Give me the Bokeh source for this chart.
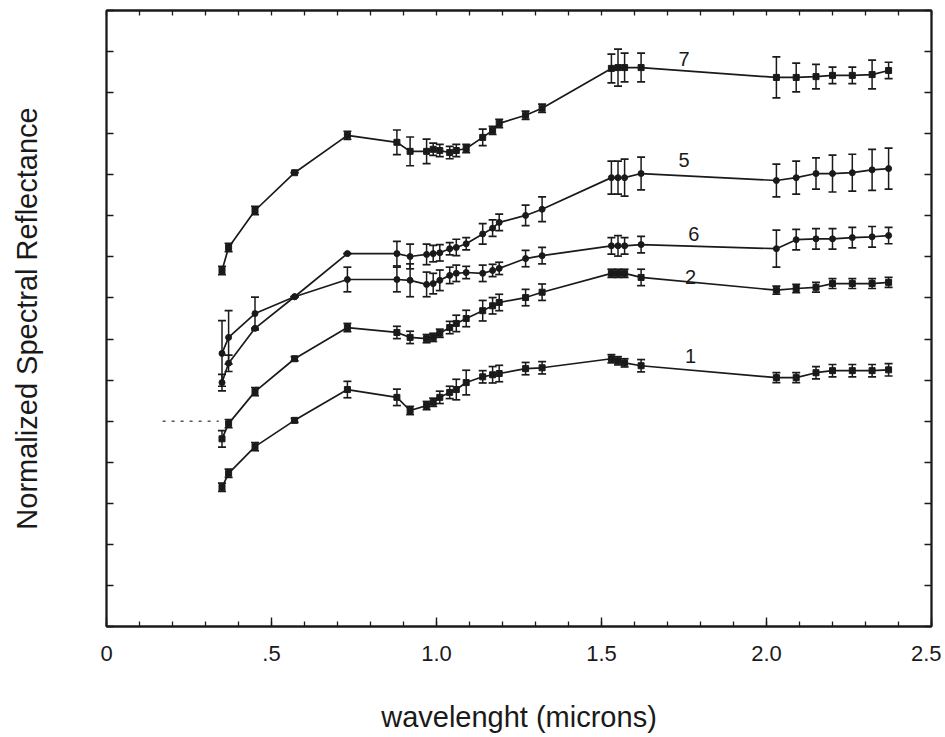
from bokeh.plotting import figure
from bokeh.models import ColumnDataSource, Whisker, TeeHead, LinearAxis, FixedTicker, Range1d
from bokeh.core.properties import value
from bokeh.embed import file_html
from bokeh.resources import INLINE

# wavelength (microns)
wavelength = [0.35, 0.37, 0.45, 0.57, 0.73, 0.88, 0.92, 0.97, 0.99, 1.01, 1.04, 1.06, 1.09, 1.14,
              1.17, 1.19, 1.27, 1.32, 1.53, 1.55, 1.57, 1.62, 2.03, 2.09, 2.15, 2.20, 2.26, 2.32, 2.37]

# normalized spectral reflectance (arbitrary units, axis unlabeled)
refl_7 = [8.67, 9.23, 10.13, 11.05, 11.96, 11.79, 11.57, 11.57, 11.62, 11.59, 11.54, 11.59, 11.64, 11.91,
          12.08, 12.25, 12.45, 12.62, 13.59, 13.61, 13.61, 13.61, 13.37, 13.37, 13.39, 13.42, 13.42, 13.44, 13.54]
refl_5 = [5.94, 6.41, 7.26, 8.03, 9.08, 9.08, 9.01, 9.06, 9.08, 9.10, 9.20, 9.23, 9.32, 9.56,
          9.70, 9.84, 10.01, 10.16, 10.93, 10.93, 10.93, 11.03, 10.86, 10.93, 11.03, 11.03, 11.05, 11.12, 11.15]
refl_6 = [6.65, 7.04, 7.62, 8.03, 8.45, 8.45, 8.43, 8.33, 8.35, 8.43, 8.55, 8.60, 8.62, 8.60,
          8.67, 8.72, 8.96, 9.03, 9.27, 9.27, 9.27, 9.30, 9.20, 9.42, 9.44, 9.44, 9.47, 9.49, 9.52]
refl_2 = [4.57, 4.94, 5.72, 6.52, 7.28, 7.16, 7.04, 7.01, 7.04, 7.14, 7.28, 7.38, 7.50, 7.69,
          7.81, 7.89, 8.01, 8.14, 8.60, 8.60, 8.60, 8.50, 8.19, 8.23, 8.26, 8.35, 8.35, 8.35, 8.38]
refl_1 = [3.39, 3.73, 4.38, 5.02, 5.77, 5.58, 5.26, 5.38, 5.46, 5.58, 5.70, 5.77, 5.94, 6.08,
          6.13, 6.16, 6.28, 6.30, 6.52, 6.47, 6.42, 6.35, 6.06, 6.06, 6.18, 6.23, 6.23, 6.23, 6.25]

# error bar half-lengths
err_7 = [0.1, 0.1, 0.1, 0.0, 0.1, 0.3, 0.35, 0.3, 0.15, 0.15, 0.15, 0.15, 0.1, 0.2,
         0.1, 0.1, 0.1, 0.1, 0.35, 0.45, 0.35, 0.35, 0.5, 0.35, 0.3, 0.2, 0.2, 0.35, 0.2]
err_5 = [0.2, 0.2, 0.0, 0.0, 0.0, 0.3, 0.3, 0.25, 0.2, 0.2, 0.15, 0.2, 0.15, 0.25,
         0.2, 0.2, 0.25, 0.3, 0.4, 0.4, 0.45, 0.4, 0.4, 0.4, 0.38, 0.45, 0.45, 0.5, 0.5]
err_6 = [0.8, 0.65, 0.4, 0.0, 0.3, 0.3, 0.4, 0.3, 0.25, 0.25, 0.2, 0.2, 0.15, 0.2,
         0.15, 0.15, 0.2, 0.2, 0.2, 0.25, 0.2, 0.2, 0.45, 0.25, 0.25, 0.25, 0.25, 0.25, 0.2]
err_2 = [0.2, 0.1, 0.1, 0.05, 0.1, 0.15, 0.15, 0.1, 0.1, 0.1, 0.15, 0.2, 0.2, 0.25,
         0.2, 0.2, 0.2, 0.2, 0.1, 0.1, 0.1, 0.2, 0.1, 0.1, 0.12, 0.12, 0.12, 0.12, 0.12]
err_1 = [0.1, 0.1, 0.1, 0.05, 0.2, 0.2, 0.1, 0.1, 0.1, 0.15, 0.15, 0.25, 0.3, 0.15,
         0.2, 0.2, 0.15, 0.15, 0.1, 0.1, 0.1, 0.15, 0.12, 0.12, 0.15, 0.15, 0.15, 0.15, 0.15]

curve_names = ["7", "5", "6", "2", "1"]
curve_markers = ["square", "circle", "circle", "square", "square"]
label_x = [1.75, 1.75, 1.78, 1.77, 1.77]
label_y = [13.82, 11.37, 9.55, 8.51, 6.58]

# dotted reference segment on the left
ref_x = [0.17, 0.34]
ref_y = [5.0, 5.0]

x_ticks = [0, 0.5, 1.0, 1.5, 2.0, 2.5]
x_tick_labels = ["0", ".5", "1.0", "1.5", "2.0", "2.5"]
x_minor = [round(i * 0.1, 1) for i in range(26)]
y_ticks = list(range(16))

FONT = "Liberation Sans"
INK = "#1a1a1a"

p = figure(width=941, height=736, output_backend="svg", toolbar_location=None,
           x_range=Range1d(0, 2.5), y_range=Range1d(0, 15),
           min_border_left=106, min_border_right=10, min_border_top=10, min_border_bottom=110)
p.grid.visible = False
p.outline_line_color = INK
p.outline_line_width = 1.8
p.background_fill_color = "white"
p.border_fill_color = "white"


def style_axis(ax, ticker, major_in, minor_in):
    ax.ticker = ticker
    ax.axis_line_color = INK
    ax.axis_line_width = 1.8
    ax.major_tick_line_color = INK
    ax.minor_tick_line_color = INK
    ax.major_tick_line_width = 1.4
    ax.minor_tick_line_width = 1.3
    ax.major_tick_in = major_in
    ax.major_tick_out = 0
    ax.minor_tick_in = minor_in
    ax.minor_tick_out = 0


# bottom axis: labelled major ticks and minor ticks
bx = p.xaxis[0]
style_axis(bx, FixedTicker(ticks=x_ticks, minor_ticks=x_minor), 9, 5)
bx.major_label_overrides = {t: l for t, l in zip(x_ticks, x_tick_labels)}
bx.major_label_text_font = FONT
bx.major_label_text_font_size = "22px"
bx.major_label_text_color = INK
bx.major_label_standoff = 19
bx.axis_label = "wavelenght (microns)"
bx.axis_label_text_font = FONT
bx.axis_label_text_font_size = "29px"
bx.axis_label_text_font_style = "normal"
bx.axis_label_text_color = INK
bx.axis_label_standoff = 37

# left axis: unlabelled ticks (drawn as minor ticks so that no tick texts exist)
ly = p.yaxis[0]
style_axis(ly, FixedTicker(ticks=[], minor_ticks=y_ticks), 0, 7)
ly.major_label_standoff = 0
ly.axis_label = "Normalized Spectral Reflectance"
ly.axis_label_text_font = FONT
ly.axis_label_text_font_size = "29px"
ly.axis_label_text_font_style = "normal"
ly.axis_label_text_color = INK
ly.axis_label_standoff = 64

top_ax = LinearAxis()
style_axis(top_ax, FixedTicker(ticks=[], minor_ticks=x_minor), 0, 5)
top_ax.major_label_standoff = 0
p.add_layout(top_ax, "above")

right_ax = LinearAxis()
style_axis(right_ax, FixedTicker(ticks=[], minor_ticks=y_ticks), 0, 7)
right_ax.major_label_standoff = 0
p.add_layout(right_ax, "right")

# dotted reference segment
p.line(ref_x, ref_y, line_color="#555555", line_width=1.5, line_dash="3 6")

series = [(refl_7, err_7), (refl_5, err_5), (refl_6, err_6), (refl_2, err_2), (refl_1, err_1)]
for (ys, es), name, mk in zip(series, curve_names, curve_markers):
    src = ColumnDataSource(dict(
        x=wavelength, y=ys,
        upper=[y + e for y, e in zip(ys, es)],
        lower=[y - e for y, e in zip(ys, es)],
    ))
    p.line("x", "y", source=src, line_color=INK, line_width=1.7)
    w = Whisker(source=src, base="x", upper="upper", lower="lower", dimension="height",
                line_color=INK, line_width=1.5,
                upper_head=TeeHead(size=8, line_color=INK, line_width=1.7),
                lower_head=TeeHead(size=8, line_color=INK, line_width=1.7))
    p.add_layout(w)
    p.scatter("x", "y", source=src, marker=mk, size=6, fill_color=INK, line_color=INK)

lab_src = ColumnDataSource(dict(x=label_x, y=label_y, t=curve_names))
p.text("x", "y", text="t", source=lab_src, text_font=value(FONT), text_font_size="20px",
       text_color=INK, text_align="center", text_baseline="middle")

open("out.html", "w").write(file_html(p, INLINE))
